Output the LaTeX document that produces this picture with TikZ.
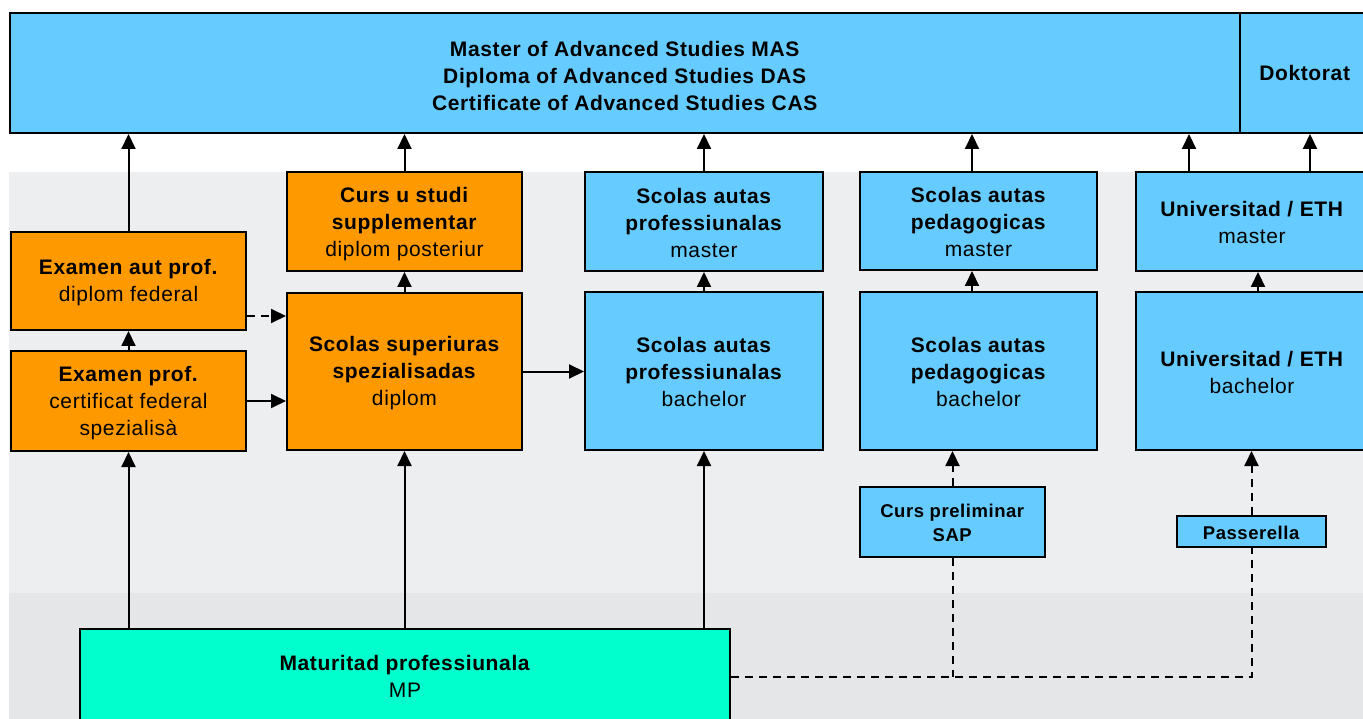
\documentclass[tikz,border=0pt]{standalone}
\usepackage{fontspec}
\setmainfont{Liberation Sans}[LetterSpace=3]
\usetikzlibrary{arrows.meta}
\definecolor{cblue}{HTML}{66CCFF}
\definecolor{corange}{HTML}{FF9900}
\definecolor{cmint}{HTML}{00FFCC}
\definecolor{bgA}{HTML}{EDEEF0}
\definecolor{bgB}{HTML}{E5E6E8}
\begin{document}
\begin{tikzpicture}[x=1pt,y=-1pt,
  box/.style={draw, line width=2pt, inner sep=0pt},
  bluebox/.style={box, fill=cblue},
  orangebox/.style={box, fill=corange},
  txt/.style={inner sep=0pt, align=center, font=\fontsize{21}{27}\selectfont},
  smalltxt/.style={txt, font=\fontsize{18.5}{24}\selectfont},
  arr/.style={line width=2pt, -{Triangle[length=15pt,width=14pt]}},
  dsh/.style={line width=2pt, dash pattern=on 8pt off 6pt},
  darr/.style={dsh, -{Triangle[length=15pt,width=14pt]}}]
\useasboundingbox (0,0) rectangle (1363,719);
\fill[white] (0,0) rectangle (1363,719);
\fill[bgA] (9,172) rectangle (1363,593);
\fill[bgB] (9,593) rectangle (1363,719);

% top row
\node[bluebox, minimum width=1230pt, minimum height=120pt] (mas) at (625,73) {};
\node[txt] (masT) at ([yshift=-3pt]mas.center)
  {\textbf{Master of Advanced Studies MAS}\\\textbf{Diploma of Advanced Studies DAS}\\\textbf{Certificate of Advanced Studies CAS}};
\node[bluebox, minimum width=126pt, minimum height=120pt] (doc) at (1303,73) {};
\node[txt] (docT) at ([xshift=2pt]doc.center) {\textbf{Doktorat}};

% left column
\node[orangebox, minimum width=235pt, minimum height=98pt] (eap) at (128.5,281) {};
\node[txt] (eapT) at ([yshift=-2pt]eap.center) {\textbf{Examen aut prof.}\\diplom federal};
\node[orangebox, minimum width=235pt, minimum height=100pt] (ep) at (128.5,401) {};
\node[txt] (epT) at ([yshift=-2pt]ep.center) {\textbf{Examen prof.}\\certificat federal\\spezialisà};

% second column
\node[orangebox, minimum width=235pt, minimum height=99pt] (cus) at (404.5,221.5) {};
\node[txt] (cusT) at ([yshift=-3pt]cus.center) {\textbf{Curs u studi}\\\textbf{supplementar}\\diplom posteriur};
\node[orangebox, minimum width=235pt, minimum height=157pt] (sss) at (404.5,371.5) {};
\node[txt] (sssT) at ([yshift=-2pt]sss.center) {\textbf{Scolas superiuras}\\\textbf{spezialisadas}\\diplom};

% third column
\node[bluebox, minimum width=238pt, minimum height=99pt] (sapm) at (704,221.5) {};
\node[txt] (sapmT) at ([yshift=-1pt]sapm.center) {\textbf{Scolas autas}\\\textbf{professiunalas}\\master};
\node[bluebox, minimum width=238pt, minimum height=158pt] (sapb) at (704,371) {};
\node[txt] (sapbT) at ([yshift=-1pt]sapb.center) {\textbf{Scolas autas}\\\textbf{professiunalas}\\bachelor};

% fourth column
\node[bluebox, minimum width=237pt, minimum height=98pt] (phm) at (978.5,221) {};
\node[txt] (phmT) at ([yshift=-1pt]phm.center) {\textbf{Scolas autas}\\\textbf{pedagogicas}\\master};
\node[bluebox, minimum width=237pt, minimum height=158pt] (phb) at (978.5,371) {};
\node[txt] (phbT) at ([yshift=-1pt]phb.center) {\textbf{Scolas autas}\\\textbf{pedagogicas}\\bachelor};
\node[bluebox, minimum width=185pt, minimum height=70pt] (cpl) at (952.5,522) {};
\node[smalltxt] (cplT) at ([yshift=-1pt]cpl.center) {\textbf{Curs preliminar}\\\textbf{SAP}};

% fifth column
\node[bluebox, minimum width=232pt, minimum height=99pt] (unim) at (1252,221.5) {};
\node[txt] (unimT) at ([yshift=-1pt]unim.center) {\textbf{Universitad / ETH}\\master};
\node[bluebox, minimum width=232pt, minimum height=158pt] (unib) at (1252,371) {};
\node[txt] (unibT) at ([yshift=-1pt]unib.center) {\textbf{Universitad / ETH}\\bachelor};
\node[bluebox, minimum width=149pt, minimum height=31pt] (pas) at (1251.5,531.5) {};
\node[smalltxt] (pasT) at ([yshift=-1pt]pas.center) {\textbf{Passerella}};

% bottom
\node[box, fill=cmint, minimum width=650pt, minimum height=96pt] (mp) at (405,677) {};
\node[txt] (mpT) at ([yshift=1pt]mp.center) {\textbf{Maturitad professiunala}\\MP};

% arrows to top
\draw[arr] (eap.north) -- (eap.north |- mas.south);
\draw[arr] (cus.north) -- (cus.north |- mas.south);
\draw[arr] (sapm.north) -- (sapm.north |- mas.south);
\draw[arr] ([xshift=-6.5pt]phm.north) -- ([xshift=-6.5pt]phm.north |- mas.south);
\draw[arr] ([xshift=-63pt]unim.north) -- ([xshift=-63pt]unim.north |- mas.south);
\draw[arr] ([xshift=58pt]unim.north) -- ([xshift=58pt]unim.north |- doc.south);

% vertical between boxes
\draw[arr] (ep.north) -- (eap.south);
\draw[arr] (sss.north) -- (cus.south);
\draw[arr] (sapb.north) -- (sapm.south);
\draw[arr] ([xshift=-6.5pt]phb.north) -- ([xshift=-6.5pt]phm.south);
\draw[arr] ([xshift=6pt]unib.north) -- ([xshift=6pt]unim.south);

% horizontal
\draw[darr] ([yshift=15pt]eap.south east) -- ([yshift=15pt]eap.south east -| sss.west);
\draw[arr] (ep.east) -- (ep.east -| sss.west);
\draw[arr] (sss.east) -- (sss.east -| sapb.west);

% from MP
\draw[arr] (mp.north -| ep.south) -- (ep.south);
\draw[arr] (mp.north -| sss.south) -- (sss.south);
\draw[arr] (mp.north -| sapb.south) -- (sapb.south);

% dashed paths
\draw[dsh] (mp.east) -| (pas.south);
\draw[dsh] (cpl.south) -- (cpl.south |- mp.east);
\draw[darr] (cpl.north) -- (cpl.north |- phb.south);
\draw[darr] (pas.north) -- (pas.north |- unib.south);
\end{tikzpicture}
\end{document}
